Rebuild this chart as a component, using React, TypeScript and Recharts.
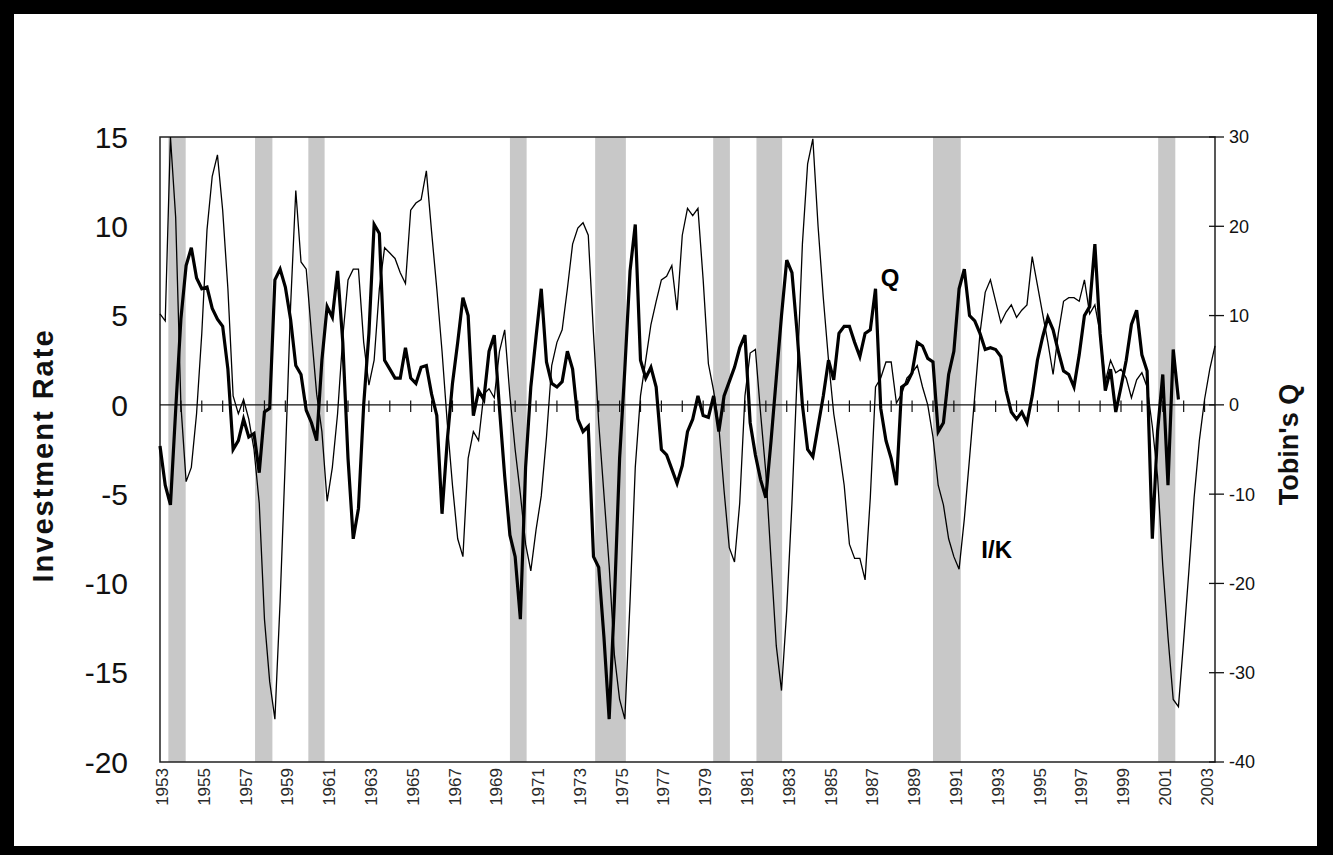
import React from "react";
import {
  ComposedChart,
  Line,
  XAxis,
  YAxis,
  ReferenceArea,
  ReferenceLine,
  ReferenceDot,
} from "recharts";

const FONT = '"Liberation Sans", Arial, Helvetica, sans-serif';

const START_YEAR = 1953;

// Investment rate I/K, quarterly from 1953Q1 (left axis)
const INVESTMENT_RATE = [
  5.1, 4.7, 15.0, 10.5, 0.0, -4.3, -3.5, -0.5, 4.0, 9.8,
  12.8, 14.0, 10.9, 6.5, 0.5, -0.5, 0.3, -0.8, -2.5, -5.5,
  -12.0, -15.5, -17.6, -11.0, -3.0, 5.5, 12.0, 8.0, 7.6, 4.0,
  0.6, -1.5, -5.4, -3.5, -0.5, 3.8, 7.0, 7.6, 7.6, 3.5,
  1.1, 2.5, 6.5, 8.8, 8.5, 8.2, 7.4, 6.8, 10.9, 11.3,
  11.5, 13.1, 9.7, 6.5, 3.0, -1.0, -4.5, -7.5, -8.5, -3.0,
  -1.5, -2.0, 0.6, 0.9, 0.4, 3.0, 4.2, 0.5, -2.5, -5.0,
  -7.8, -9.3, -7.0, -5.1, -1.8, 2.2, 3.5, 4.2, 6.5, 9.0,
  9.9, 10.2, 9.5, 4.0, -1.0, -5.0, -9.0, -14.0, -16.5, -17.6,
  -11.0, -3.5, 0.5, 2.5, 4.5, 5.8, 7.0, 7.2, 7.8, 5.3,
  9.5, 11.0, 10.6, 11.0, 7.0, 2.3, 0.8, -1.2, -4.8, -8.0,
  -8.8, -5.5, 0.5, 2.9, 3.1, -0.5, -3.8, -8.7, -13.5, -16.0,
  -11.5, -5.5, 1.7, 9.0, 13.5, 14.9, 10.0, 6.0, 2.5, -0.5,
  -2.4, -4.5, -7.8, -8.6, -8.6, -9.8, -5.2, 1.0, 1.5, 2.4,
  2.4, 0.1, 0.6, 1.5, 1.8, 2.2, 1.0, 0.0, -1.8, -4.5,
  -5.6, -7.5, -8.5, -9.2, -6.4, -3.0, 0.5, 4.0, 6.3, 7.0,
  5.8, 4.6, 5.2, 5.6, 4.9, 5.3, 5.6, 8.3, 6.7, 5.1,
  3.5, 1.7, 4.0, 5.8, 6.0, 6.0, 5.8, 7.0, 5.1, 5.6,
  4.0, 1.3, 2.5, 1.8, 2.0, 1.5, 0.4, 1.4, 1.8, 1.0,
  -1.2, -4.0, -9.0, -13.0, -16.5, -16.9, -13.2, -9.3, -5.2, -2.0,
  0.3, 2.0, 3.3,
];

// Tobin's Q, quarterly from 1953Q1 (right axis)
const TOBINS_Q = [
  -4.6, -9.0, -11.2, -0.6, 9.6, 15.6, 17.6, 14.2, 13.0, 13.2,
  10.8, 9.6, 8.8, 4.0, -5.0, -4.0, -1.6, -3.6, -3.2, -7.6,
  -0.8, -0.4, 14.0, 15.2, 13.2, 9.6, 4.4, 3.4, -0.6, -2.0,
  -4.0, 5.0, 11.0, 9.8, 15.0, 7.0, -6.0, -15.0, -11.6, 0.0,
  8.0, 20.2, 19.2, 5.0, 4.0, 3.0, 3.0, 6.4, 3.0, 2.4,
  4.2, 4.4, 1.2, -1.2, -12.2, -4.0, 2.4, 7.0, 12.0, 10.0,
  -1.2, 1.6, 0.6, 6.0, 7.8, -0.4, -8.0, -14.6, -17.0, -24.0,
  -7.0, 2.0, 7.6, 13.0, 4.8, 2.4, 2.0, 2.6, 6.0, 4.0,
  -1.6, -3.0, -2.4, -17.0, -18.2, -26.0, -35.2, -22.0, -6.0, 4.0,
  15.0, 20.2, 5.0, 3.0, 4.2, 2.0, -5.0, -5.6, -7.2, -8.8,
  -6.8, -3.0, -1.6, 1.0, -1.2, -1.4, 1.0, -3.0, 1.0, 2.6,
  4.2, 6.4, 7.8, -2.0, -5.6, -8.4, -10.4, -4.0, 3.0, 10.0,
  16.2, 14.8, 8.0, 0.0, -5.0, -5.8, -2.4, 1.0, 5.0, 2.8,
  8.0, 8.8, 8.8, 7.0, 5.4, 8.0, 8.4, 13.0, -0.4, -4.0,
  -6.0, -9.0, 2.0, 2.4, 3.6, 7.0, 6.6, 5.2, 4.8, -3.0,
  -2.0, 3.4, 6.0, 13.0, 15.2, 10.0, 9.4, 8.0, 6.2, 6.4,
  6.2, 5.4, 1.6, -0.8, -1.6, -0.8, -2.0, 1.0, 5.0, 7.6,
  9.8, 8.4, 6.0, 3.8, 3.4, 2.0, 5.6, 10.0, 11.0, 18.0,
  8.0, 1.6, 4.0, -0.8, 2.0, 5.0, 9.0, 10.6, 5.6, 3.8,
  -15.0, -3.0, 3.4, -9.0, 6.2, 0.6,
];

// shaded recessions, start and end in years
const RECESSIONS: [number, number][] = [
  [1953.4, 1954.23],
  [1957.55, 1958.38],
  [1960.1, 1960.88],
  [1969.75, 1970.55],
  [1973.83, 1975.3],
  [1979.48, 1980.28],
  [1981.55, 1982.78],
  [1990.0, 1991.33],
  [2000.78, 2001.6],
];

const LABEL_YEARS = [
  1953, 1955, 1957, 1959, 1961, 1963, 1965, 1967, 1969, 1971, 1973, 1975, 1977,
  1979, 1981, 1983, 1985, 1987, 1989, 1991, 1993, 1995, 1997, 1999, 2001, 2003,
];
const LEFT_TICKS = [-20, -15, -10, -5, 0, 5, 10, 15];
const RIGHT_TICKS = [-40, -30, -20, -10, 0, 10, 20, 30];

const X_MIN = 1953;
const X_MAX = 2003.5;

// year boundaries marked on the zero line
const YEAR_MARKS = Array.from({ length: 50 }, (_, k) => START_YEAR + 1 + k);

const data = INVESTMENT_RATE.map((ik, i) => ({
  t: START_YEAR + i / 4,
  ik,
  q: TOBINS_Q[i],
}));

// labels sit in the middle of the year's first quarter
const labelTicks = LABEL_YEARS.map((y) => y + 0.125);

function XTick(props: any) {
  const { x, y, payload } = props;
  const label = String(Math.round(payload.value - 0.125));
  return (
    <text
      x={x}
      y={y}
      transform={`rotate(-90 ${x} ${y})`}
      textAnchor="end"
      dominantBaseline="central"
      fontSize={17}
      fontFamily={FONT}
      fill="#2a2a2a"
    >
      {label}
    </text>
  );
}

function RightTick(props: any) {
  const { x, y, payload } = props;
  return (
    <g>
      <line x1={x - 6} y1={y} x2={x + 9} y2={y} stroke="#111" strokeWidth={1.3} />
      <text x={x + 14} y={y} dy="0.36em" textAnchor="start" fontSize={18} fontFamily={FONT} fill="#111">
        {payload.value}
      </text>
    </g>
  );
}

function LeftTitle(props: any) {
  const vb = props.viewBox;
  if (!vb) return null;
  const cx = vb.x + 43;
  const cy = vb.y + vb.height / 2 + 6;
  return (
    <text
      x={cx}
      y={cy}
      transform={`rotate(-90 ${cx} ${cy})`}
      textAnchor="middle"
      dominantBaseline="central"
      fontSize={29}
      letterSpacing={2}
      fontWeight="bold"
      fontFamily={FONT}
      fill="#111"
    >
      Investment Rate
    </text>
  );
}

function RightTitle(props: any) {
  const vb = props.viewBox;
  if (!vb) return null;
  const cx = vb.x + 74;
  const cy = vb.y + vb.height / 2 - 5;
  return (
    <text
      x={cx}
      y={cy}
      transform={`rotate(-90 ${cx} ${cy})`}
      textAnchor="middle"
      dominantBaseline="central"
      fontSize={27}
      fontWeight="bold"
      fontFamily={FONT}
      fill="#111"
    >
      Tobin's Q
    </text>
  );
}

export default function App() {
  return (
    <div style={{ position: "fixed", left: 0, top: 0, width: 1333, height: 855, background: "#000" }}>
      <div style={{ position: "absolute", left: 14, top: 14, width: 1303, height: 832, background: "#fff" }} />
      <div style={{ position: "absolute", left: 0, top: 0 }}>
        <ComposedChart width={1333} height={855} data={data} margin={{ top: 137, right: 0, bottom: 0, left: 0 }}>
          <XAxis
            dataKey="t"
            type="number"
            domain={[X_MIN, X_MAX]}
            ticks={labelTicks}
            interval={0}
            height={93}
            axisLine={false}
            tickLine={false}
            tickSize={0}
            tickMargin={6}
            tick={XTick}
          />
          <YAxis
            yAxisId="left"
            domain={[-20, 15]}
            ticks={LEFT_TICKS}
            interval={0}
            width={160}
            axisLine={false}
            tickLine={false}
            tickSize={0}
            tickMargin={32}
            tick={{ fontSize: 30, fill: "#111", fontFamily: FONT }}
            label={LeftTitle}
          />
          <YAxis
            yAxisId="right"
            orientation="right"
            domain={[-40, 30]}
            ticks={RIGHT_TICKS}
            interval={0}
            width={118}
            axisLine={false}
            tickLine={false}
            tickSize={0}
            tickMargin={0}
            tick={RightTick}
            label={RightTitle}
          />
          {RECESSIONS.map(([a, b]) => (
            <ReferenceArea
              key={a}
              yAxisId="left"
              x1={a}
              x2={b}
              fill="#c8c8c8"
              fillOpacity={1}
              stroke="none"
            />
          ))}
          <ReferenceArea
            yAxisId="left"
            x1={X_MIN}
            x2={X_MAX}
            y1={-20}
            y2={15}
            fill="none"
            stroke="#222"
            strokeWidth={1.5}
          />
          <ReferenceLine yAxisId="left" y={0} stroke="#111" strokeWidth={1.3} />
          {YEAR_MARKS.map((yr) => (
            <ReferenceLine
              key={yr}
              yAxisId="left"
              segment={[
                { x: yr, y: 0.25 },
                { x: yr, y: -0.4 },
              ]}
              stroke="#111"
              strokeWidth={1.2}
            />
          ))}
          <Line
            yAxisId="left"
            type="linear"
            dataKey="ik"
            stroke="#000"
            strokeWidth={1.3}
            dot={false}
            isAnimationActive={false}
          />
          <Line
            yAxisId="right"
            type="linear"
            dataKey="q"
            stroke="#000"
            strokeWidth={3.2}
            dot={false}
            isAnimationActive={false}
          />
          <ReferenceDot
            yAxisId="left"
            x={1987.95}
            y={7.15}
            r={0}
            stroke="none"
            label={{ value: "Q", position: "center", fontSize: 24, fontWeight: "bold", fill: "#000", fontFamily: FONT }}
          />
          <ReferenceDot
            yAxisId="left"
            x={1993.05}
            y={-8.1}
            r={0}
            stroke="none"
            label={{ value: "I/K", position: "center", fontSize: 24, fontWeight: "bold", fill: "#000", fontFamily: FONT }}
          />
        </ComposedChart>
      </div>
    </div>
  );
}
